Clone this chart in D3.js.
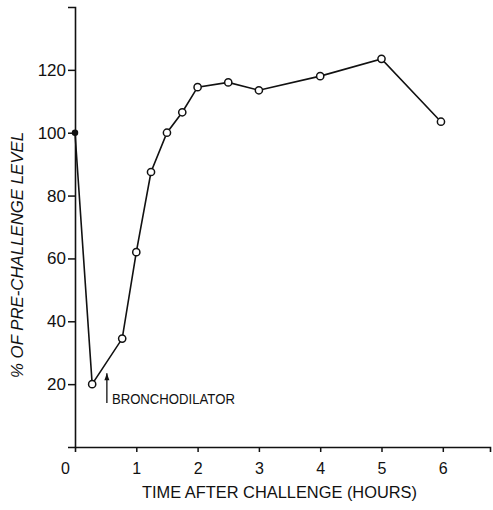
<!DOCTYPE html>
<html>
<head>
<meta charset="utf-8">
<script src="https://d3js.org/d3.v7.min.js"></script>
<style>
    body { margin: 0; background: #fff; }
    #chart text {
        font-family: "Liberation Sans", Arial, sans-serif;
        fill: #111;
    }
</style>
</head>
<body>
<div id="chart"></div>
<script>
    "use strict"

    // hours after challenge, % of pre-challenge level
    var hours = [0, 0.28, 0.77, 1.0, 1.24, 1.5, 1.75, 2.0, 2.5, 3.0, 4.0, 5.0, 5.97];
    var levels = [100, 20, 34.5, 62, 87.5, 100, 106.5, 114.5, 116, 113.5, 118, 123.5, 103.5];
    var xTicks = [0, 1, 2, 3, 4, 5, 6];
    var yTicks = [20, 40, 60, 80, 100, 120];
    var noteHour = 0.52;
    var noteText = "BRONCHODILATOR";

    var width = 493, height = 510;
    var margin = { left: 75, top: 7, right: 3, bottom: 63 };

    var svg = d3.select('#chart')
        .append('svg')
        .attr('width', width)
        .attr('height', height);

    var x = d3.scaleLinear()
        .domain([0, 6.77])
        .range([margin.left, width - margin.right]);

    var y = d3.scaleLinear()
        .domain([0, 140])
        .range([height - margin.bottom, margin.top]);

    var xAxis = svg.append('g')
        .attr('transform', 'translate(0,' + y(0) + ')')
        .call(d3.axisBottom(x).tickValues(xTicks).tickSize(5).tickPadding(11).tickFormat(d3.format('d')));

    var yAxis = svg.append('g')
        .attr('transform', 'translate(' + x(0) + ',0)')
        .call(d3.axisLeft(y).tickValues(yTicks).tickSize(7).tickPadding(2).tickFormat(d3.format('d')));

    [xAxis, yAxis].forEach(function (g) {
        g.select('.domain').attr('stroke', '#111').attr('stroke-width', 1.6);
        g.selectAll('.tick line').attr('stroke', '#111').attr('stroke-width', 1.5);
    });
    xAxis.selectAll('.tick text').style('font-size', '16px');
    yAxis.selectAll('.tick text').style('font-size', '17px');
    // no tick at the origin, and its label sits left of the axis
    xAxis.selectAll('.tick').filter(d => d === 0).select('line').remove();
    xAxis.selectAll('.tick').filter(d => d === 0).select('text').attr('dx', -10);

    var data = hours.map((h, i) => ({ h: h, v: levels[i] }));

    svg.append('path')
        .datum(data)
        .attr('fill', 'none')
        .attr('stroke', '#111')
        .attr('stroke-width', 1.6)
        .attr('d', d3.line().x(d => x(d.h)).y(d => y(d.v)));

    svg.selectAll('circle.pt')
        .data(data)
        .enter()
        .append('circle')
        .attr('class', 'pt')
        .attr('cx', d => x(d.h))
        .attr('cy', d => y(d.v))
        .attr('r', (d, i) => i === 0 ? 2.5 : 3.6)
        .attr('fill', (d, i) => i === 0 ? '#111' : '#fff')
        .attr('stroke', '#111')
        .attr('stroke-width', 1.5);

    // bronchodilator arrow
    var ax = x(noteHour);
    svg.append('line')
        .attr('x1', ax).attr('x2', ax)
        .attr('y1', y(14)).attr('y2', y(23.5))
        .attr('stroke', '#111').attr('stroke-width', 1.3);
    svg.append('path')
        .attr('d', 'M' + (ax - 2.5) + ',' + (y(23.5) + 7) + 'L' + ax + ',' + y(23.5) + 'L' + (ax + 2.5) + ',' + (y(23.5) + 7) + 'Z')
        .attr('fill', '#111');
    svg.append('text')
        .attr('x', ax + 5)
        .attr('y', y(13.6))
        .attr('textLength', 123)
        .attr('lengthAdjust', 'spacingAndGlyphs')
        .style('font-size', '15px')
        .text(noteText);

    svg.append('text')
        .attr('x', (142 + 417) / 2)
        .attr('y', 498)
        .attr('text-anchor', 'middle')
        .attr('textLength', 275)
        .attr('lengthAdjust', 'spacingAndGlyphs')
        .style('font-size', '16px')
        .text('TIME AFTER CHALLENGE (HOURS)');

    svg.append('text')
        .attr('transform', 'translate(23,' + 255 + ') rotate(-90)')
        .attr('text-anchor', 'middle')
        .attr('textLength', 246)
        .attr('lengthAdjust', 'spacingAndGlyphs')
        .style('font-size', '16px')
        .style('font-style', 'italic')
        .text('% OF PRE-CHALLENGE LEVEL');
</script>
</body>
</html>
